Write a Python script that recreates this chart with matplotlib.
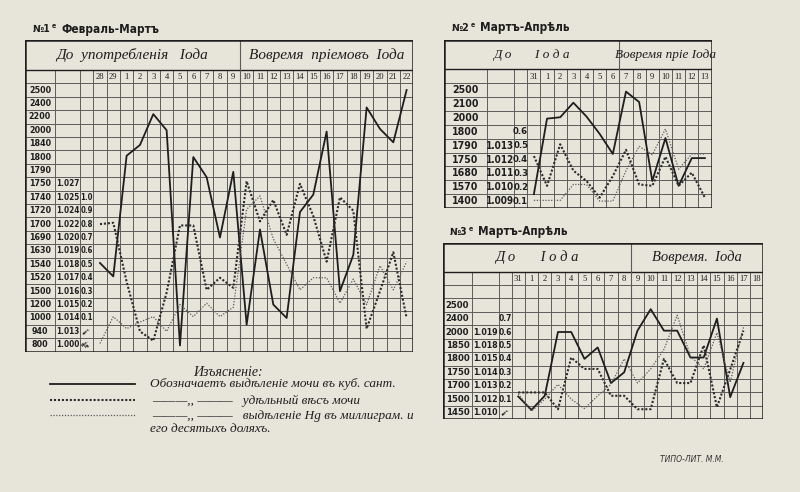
import matplotlib.pyplot as plt

W, H = 800, 492
PAPER = '#e7e4da'
INK = '#1e1e1e'
GRID = '#5c5c5c'

# ---------------- chart No 1 (values in grid rows above the bottom line) ----------------
days1 = ['28', '29', '1', '2', '3', '4', '5', '6', '7', '8', '9', '10', '11',
         '12', '13', '14', '15', '16', '17', '18', '19', '20', '21', '22']
rows1_a = ['2500', '2400', '2200', '2000', '1840', '1800', '1790', '1750', '1740', '1720',
           '1700', '1690', '1630', '1540', '1520', '1500', '1200', '1000', '940', '800']
rows1_b = ['', '', '', '', '', '', '', '1.027', '1.025', '1.024', '1.022', '1.020',
           '1.019', '1.018', '1.017', '1.016', '1.015', '1.014', '1.013', '1.000']
rows1_c = ['', '', '', '', '', '', '', '', '1.0', '0.9', '0.8', '0.7', '0.6', '0.5',
           '0.4', '0.3', '0.2', '0.1', 'сант.', 'Млг.Hg']
urine1 = [6.6, 5.6, 14.6, 15.4, 17.7, 16.5, 0.45, 14.5, 13.0, 8.5, 13.4, 2.0,
          9.1, 3.5, 2.5, 10.4, 11.7, 16.4, 4.5, 7.2, 18.2, 16.6, 15.6, 19.5]
gravity1 = [9.5, 9.6, 5.2, 1.5, 0.8, 4.4, 9.4, 9.4, 4.6, 5.5, 4.75, 12.7,
            9.7, 11.3, 8.7, 12.5, 10.1, 6.7, 11.5, 10.5, 1.7, 4.5, 7.4, 2.5]
mercury1 = [0.6, 2.6, 1.7, 2.2, 2.6, 1.5, 3.5, 2.6, 3.6, 2.6, 3.3, 10.6,
            11.6, 8.4, 6.5, 4.6, 5.5, 5.5, 3.6, 5.4, 3.5, 6.4, 4.6, 6.7]

# ---------------- chart No 2 ----------------
days2 = ['31', '1', '2', '3', '4', '5', '6', '7', '8', '9', '10', '11', '12', '13']
rows2_a = ['2500', '2100', '2000', '1800', '1790', '1750', '1680', '1570', '1400']
rows2_b = ['', '', '', '', '1.013', '1.012', '1.011', '1.010', '1.009']
rows2_c = ['', '', '', '0.6', '0.5', '0.4', '0.3', '0.2', '0.1']
urine2 = [1.0, 6.45, 6.55, 7.6, 6.6, 5.35, 3.9, 8.4, 7.65, 1.95, 5.05, 1.6, 3.6, 3.6]
gravity2 = [3.75, 1.6, 4.6, 2.7, 1.95, 0.75, 2.3, 4.2, 1.7, 1.6, 3.7, 1.6, 2.55, 0.75]
mercury2 = [0.55, 0.55, 0.55, 1.7, 1.7, 0.5, 0.5, 2.7, 4.45, 3.85, 5.7, 2.8, 3.9, 3.9]

# ---------------- chart No 3 ----------------
days3 = ['31', '1', '2', '3', '4', '5', '6', '7', '8', '9', '10', '11', '12', '13',
         '14', '15', '16', '17', '18']
rows3_a = ['', '2500', '2400', '2000', '1850', '1800', '1750', '1700', '1500', '1450']
rows3_b = ['', '', '', '1.019', '1.018', '1.015', '1.014', '1.013', '1.012', '1.010']
rows3_c = ['', '', '0.7', '0.6', '0.5', '0.4', '0.3', '0.2', '0.1', 'сант.']
urine3 = [1.7, 0.7, 1.75, 6.5, 6.5, 4.5, 5.35, 2.7, 3.5, 6.6, 8.2, 6.6,
          6.6, 4.6, 4.6, 7.5, 1.65, 4.2]
gravity3 = [2.0, 2.0, 2.0, 0.75, 4.6, 3.75, 3.75, 1.75, 1.75, 0.75, 0.75, 4.5,
            2.7, 2.7, 5.5, 0.9, 3.7, 6.6]
mercury3 = [1.9, 0.6, 1.5, 2.6, 1.5, 0.8, 1.75, 2.6, 4.5, 2.7, 3.75, 5.2,
            7.75, 4.7, 3.75, 6.45, 2.75, 6.85]

fig = plt.figure(figsize=(8, 4.92), dpi=100)
fig.patch.set_facecolor(PAPER)

LABEL_FONT = dict(family='DejaVu Sans', fontweight='bold', fontstretch='condensed', color=INK)
DAY_FONT = dict(family='Liberation Serif', color=INK)
HEAD_FONT = dict(family='Liberation Serif', style='italic', color=INK)


def panel(box, colw, head_px, dayrow_px, days, col_a, col_b, col_c, split,
          urine, gravity, mercury, head_left, head_right, fs_a, fs_head):
    left, top, right, bottom = box
    nd = len(days)
    nr = len(col_a)
    cw = (right - left - sum(colw)) / nd
    rh = (bottom - top - head_px - dayrow_px) / nr
    ax = fig.add_axes([left / W, 1 - bottom / H, (right - left) / W, (bottom - top) / H])
    ax.set_facecolor('none')
    w1, w2, w3 = [c / cw for c in colw]
    x0 = -(w1 + w2 + w3)
    yd = nr + dayrow_px / rh
    yt = yd + head_px / rh
    ax.set_xlim(x0, nd)
    ax.set_ylim(0, yt)
    ax.axis('off')

    # grid of the table
    for i in range(1, nr + 1):
        ax.plot([x0, nd], [i, i], color=GRID, lw=0.7)
    for xv in [x0 + w1, x0 + w1 + w2, 0] + list(range(1, nd)):
        ax.plot([xv, xv], [0, yd], color=GRID, lw=0.7)
    ax.plot([x0, nd], [yd, yd], color=INK, lw=1.0)
    ax.plot([split, split], [0, yt], color=GRID, lw=0.8)
    ax.plot([x0, nd, nd, x0, x0], [0, 0, yt, yt, 0], color=INK, lw=1.8,
            solid_joinstyle='miter')

    # labels of rows and days
    for i in range(nr):
        yc = nr - i - 0.5
        ax.text(x0 + w1 / 2, yc, col_a[i], ha='center', va='center', fontsize=fs_a, **LABEL_FONT)
        ax.text(x0 + w1 + w2 / 2, yc, col_b[i], ha='center', va='center', fontsize=fs_a - 0.5,
                **LABEL_FONT)
        small = col_c[i] in ('сант.', 'Млг.Hg')
        ax.text(-w3 / 2, yc, col_c[i].replace('.H', '.\nH'), ha='center', va='center',
                fontsize=2.6 if small else fs_a - 0.8, rotation=40 if small else 0,
                linespacing=0.8, **LABEL_FONT)
    for j, d in enumerate(days):
        ax.text(j + 0.5, nr + 0.45, d, ha='center', va='center', fontsize=6.2, **DAY_FONT)

    ax.text((x0 + split) / 2, (yd + yt) / 2, head_left, ha='center', va='center',
            fontsize=fs_head, **HEAD_FONT)
    ax.text((split + nd) / 2, (yd + yt) / 2, head_right, ha='center', va='center',
            fontsize=fs_head, **HEAD_FONT)

    xs = [j + 0.5 for j in range(len(urine))]
    ax.plot(xs, urine, color=INK, lw=1.3)
    ax.plot(xs, gravity, color='#2b2b2b', lw=1.5, ls=(0, (1, 0.9)))
    ax.plot(xs, mercury, color='#5a5a5a', lw=0.9, ls=(0, (1, 1.3)))
    return ax


panel((25, 40, 413.3, 351.5), (30, 25, 13.3), 30, 13.3, days1, rows1_a, rows1_b, rows1_c, 11,
      urine1, gravity1, mercury1, 'До  употребленія   Іода', 'Вовремя  пріемовъ  Іода', 6.4, 11)
panel((444, 40, 711.5, 208), (42.7, 27.3, 13.3), 29.3, 14, days2, rows2_a, rows2_b, rows2_c, 7,
      urine2, gravity2, mercury2, 'Д о       І о д а', 'Вовремя пріе Іода', 7.6, 9.5)
panel((443.3, 243.3, 763.3, 419.3), (28.4, 27.6, 12.3), 28.4, 13.3, days3, rows3_a, rows3_b,
      rows3_c, 9, urine3, gravity3, mercury3, 'Д о       І о д а', 'Вовремя.  Іода', 6.8, 10.5)

# overlay in pixel units for titles and the explanation
ov = fig.add_axes([0, 0, 1, 1])
ov.set_xlim(0, W)
ov.set_ylim(H, 0)
ov.axis('off')

TITLE = dict(family='DejaVu Sans', fontweight='bold', fontstretch='condensed', color=INK,
             va='center', ha='left')
for x, y, num, name in [(33, 29, '№1', 'Февраль-Мартъ'), (452, 28, '№2', 'Мартъ-Апрѣль'),
                        (450, 232, '№3', 'Мартъ-Апрѣль')]:
    ov.text(x, y, num, fontsize=7.5, **TITLE)
    ov.text(x + 19, y - 3, 'е', fontsize=5, **TITLE)
    ov.text(x + 28, y, name, fontsize=8.5, **TITLE)

EXPL = dict(family='Liberation Serif', style='italic', color=INK, va='center', ha='left',
            fontsize=9.5)
ov.text(228, 373, 'Изъясненіе:', ha='center', va='center', family='Liberation Serif',
        style='italic', color=INK, fontsize=10)
ov.plot([50, 135], [384, 384], color=INK, lw=1.3)
ov.plot([50, 135], [400, 400], color='#2b2b2b', lw=1.5, ls=(0, (1, 0.9)))
ov.plot([50, 135], [415, 415], color='#5a5a5a', lw=0.9, ls=(0, (1, 1.3)))
ov.text(150, 384, 'Обозначаетъ выдѣленіе мочи въ куб. сант.', **EXPL)
ov.text(152, 401, '———,, ———   удѣльный вѣсъ мочи', **EXPL)
ov.text(152, 416, '———,, ———   выдѣленіе Hg въ миллиграм. и', **EXPL)
ov.text(150, 429, 'его десятыхъ доляхъ.', **EXPL)
ov.text(692, 460, 'ТИПО-ЛИТ. М.М.', ha='center', va='center', family='DejaVu Sans',
        style='italic', fontsize=5.5, color='#333333')

fig.savefig('out.png', dpi=100, facecolor=PAPER)
